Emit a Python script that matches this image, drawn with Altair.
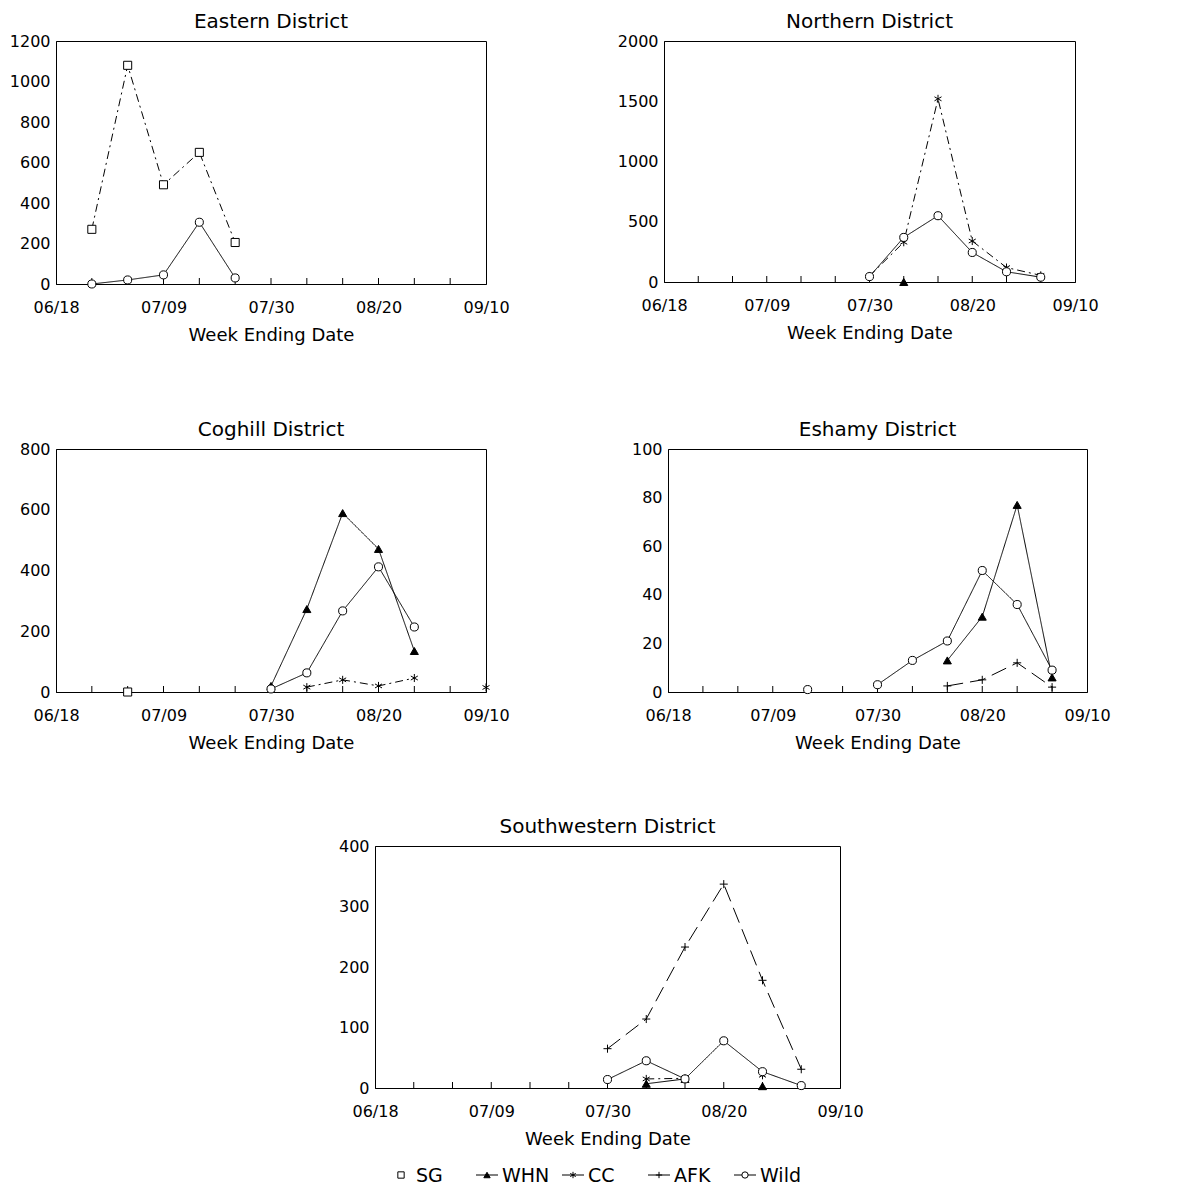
import altair as alt
import pandas as pd

N = None
week_labels = ["06/18", "06/25", "07/02", "07/09", "07/16", "07/23", "07/30",
               "08/06", "08/13", "08/20", "08/27", "09/03", "09/10"]
tick_weeks = [0, 3, 6, 9, 12]
series = ["SG", "WHN", "CC", "AFK", "Wild"]

eastern_SG = [N, 270, 1080, 490, 650, 205, N, N, N, N, N, N, N]
eastern_Wild = [N, 0, 20, 45, 305, 30, N, N, N, N, N, N, N]

northern_WHN = [N, N, N, N, N, N, N, 0, N, N, N, N, N]
northern_CC = [N, N, N, N, N, N, 50, 330, 1520, 340, 120, 55, N]
northern_Wild = [N, N, N, N, N, N, 45, 370, 550, 245, 85, 40, N]

coghill_SG = [N, N, 0, N, N, N, N, N, N, N, N, N, N]
coghill_WHN = [N, N, N, N, N, N, 20, 273, 589, 471, 135, N, N]
coghill_CC = [N, N, N, N, N, N, N, 16, 40, 20, 46, N, 15]
coghill_Wild = [N, N, N, N, N, N, 10, 63, 267, 412, 214, N, N]

eshamy_WHN = [N, N, N, N, N, N, N, N, 13, 31, 77, 6, N]
eshamy_AFK = [N, N, N, N, N, N, N, N, 2.5, 5, 12, 2, N]
eshamy_Wild = [N, N, N, N, 1, N, 3, 13, 21, 50, 36, 9, N]

sw_WHN = [N, N, N, N, N, N, N, 7, 15, N, 3, N, N]
sw_CC = [N, N, N, N, N, N, N, 15, 16, N, 21, N, N]
sw_AFK = [N, N, N, N, N, N, 65, 114, 233, 337, 178, 31, N]
sw_Wild = [N, N, N, N, N, N, 14, 45, 15, 78, 27, 4, N]

FONT = "DejaVu Sans"
ASTERISK = "M0,-1L0,1M-0.87,-0.5L0.87,0.5M-0.87,0.5L0.87,-0.5"
PLUS = "M-1,0L1,0M0,-1L0,1"

shape_scale = alt.Scale(domain=series, range=["square", "triangle-up", ASTERISK, PLUS, "circle"])
fill_scale = alt.Scale(domain=series, range=["white", "black", "white", "white", "white"])
dash_scale = alt.Scale(domain=series, range=[[8, 4, 2, 4], [1, 0], [8, 4, 2, 4], [16, 7], [1, 0]])

label_array = "[" + ",".join("'%s'" % s for s in week_labels) + "]"


def to_long(d):
    rows = []
    for name, vals in d.items():
        seg = 0
        for w, v in enumerate(vals):
            if v is None:
                seg += 1
                continue
            rows.append({"week": w, "series": name, "value": v, "seg": seg})
    return pd.DataFrame(rows)


def panel(title, d, ymax, ystep, w, h, toff=1):
    df = to_long(d)
    xs = alt.Scale(domain=[0, 12], nice=False, zero=False)
    x = alt.X("week:Q", scale=xs,
              axis=alt.Axis(values=tick_weeks, labelExpr=label_array + "[datum.value]",
                            title="Week Ending Date", ticks=False, grid=False,
                            labelPadding=15, titlePadding=11, labelFlush=False))
    y = alt.Y("value:Q", scale=alt.Scale(domain=[0, ymax], nice=False),
              axis=alt.Axis(values=list(range(0, ymax + 1, ystep)), title=None, format="d",
                            ticks=False, grid=False, labelPadding=6))
    base = alt.Chart(df)
    lines = base.mark_line(color="black", strokeWidth=1).encode(
        x=x, y=y,
        strokeDash=alt.StrokeDash("series:N", scale=dash_scale, legend=None),
        detail="seg:N",
    )
    pts = base.mark_point(filled=True, stroke="black", strokeWidth=1, size=65, opacity=1).encode(
        x=x, y=y,
        shape=alt.Shape("series:N", scale=shape_scale, legend=None),
        fill=alt.Fill("series:N", scale=fill_scale, legend=None),
    )
    wk = pd.DataFrame({"week": list(range(1, 12))})
    ticks = alt.Chart(wk).mark_rule(color="black", strokeWidth=1).encode(
        x=alt.X("week:Q", scale=xs), y=alt.value(h), y2=alt.value(h - 6))
    return alt.layer(ticks, lines, pts).properties(
        width=w, height=h,
        title=alt.TitleParams(title, fontSize=20, font=FONT, fontWeight="normal", offset=toff))


def spacer(w):
    return alt.Chart(pd.DataFrame({"a": [0]})).mark_point(opacity=0).encode(
        x=alt.value(0), y=alt.value(0)
    ).properties(width=w, height=10, view=alt.ViewBackground(strokeOpacity=0))


eastern = panel("Eastern District", {"SG": eastern_SG, "Wild": eastern_Wild}, 1200, 200, 430, 243)
northern = panel("Northern District", {"WHN": northern_WHN, "CC": northern_CC, "Wild": northern_Wild}, 2000, 500, 411, 241)
coghill = panel("Coghill District", {"SG": coghill_SG, "WHN": coghill_WHN, "CC": coghill_CC, "Wild": coghill_Wild}, 800, 200, 430, 243)
eshamy = panel("Eshamy District", {"WHN": eshamy_WHN, "AFK": eshamy_AFK, "Wild": eshamy_Wild}, 100, 20, 419, 243)
sw = panel("Southwestern District", {"WHN": sw_WHN, "CC": sw_CC, "AFK": sw_AFK, "Wild": sw_Wild}, 400, 100, 465, 242)

# legend
legend_df = pd.DataFrame({"series": series, "i": list(range(len(series))),
                          "has_line": [False, True, True, True, True]})
lx = alt.X("i:Q", scale=alt.Scale(domain=[0, 5]), axis=None)
lbase = alt.Chart(legend_df)
lrule = lbase.transform_filter("datum.has_line").mark_rule(
    color="black", strokeWidth=1, xOffset=1, x2Offset=23).encode(
    x=lx, x2="i:Q", y=alt.value(10))
lpts = lbase.mark_point(filled=True, stroke="black", strokeWidth=1, size=40, opacity=1, xOffset=12).encode(
    x=lx, y=alt.value(10),
    shape=alt.Shape("series:N", scale=shape_scale, legend=None),
    fill=alt.Fill("series:N", scale=fill_scale, legend=None))
ltext = lbase.mark_text(align="left", baseline="middle", font=FONT, fontSize=19, dx=27).encode(
    x=lx, y=alt.value(11), text="series:N")
legend = alt.layer(lrule, lpts, ltext).properties(
    width=430, height=20, view=alt.ViewBackground(strokeOpacity=0))

row1 = alt.hconcat(eastern, northern, spacing=106)
row2 = alt.hconcat(coghill, eshamy, spacing=120)
row3 = alt.hconcat(spacer(281), sw, spacing=0)
row4 = alt.hconcat(spacer(333), legend, spacing=0)

top = alt.vconcat(row1, row2, spacing=74)
bottom = alt.vconcat(row3, row4, spacing=13)

chart = alt.vconcat(top, bottom, spacing=63).properties(
    padding={"left": 0, "top": 3, "right": 0, "bottom": 0}
).configure_view(
    stroke="black", strokeWidth=1
).configure_axis(
    domainColor="black", domainWidth=1, labelColor="black", titleColor="black",
    labelFont=FONT, titleFont=FONT, labelFontSize=16, titleFontSize=18,
    titleFontWeight="normal"
)

chart.save("out.html", embed_options={"renderer": "svg", "actions": False})
